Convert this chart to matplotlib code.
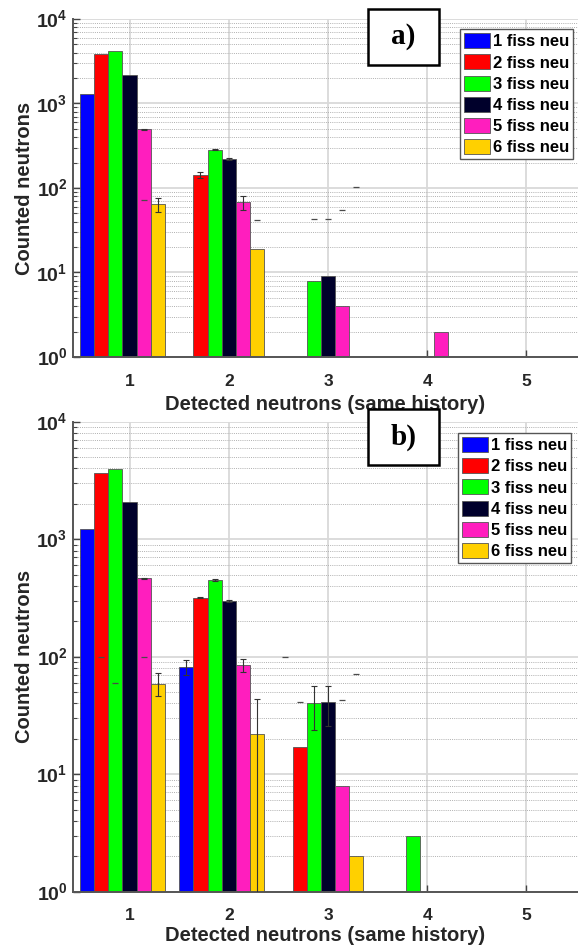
import numpy as np
import matplotlib.pyplot as plt
from matplotlib.patches import Rectangle
from matplotlib.ticker import LogLocator, NullFormatter

plt.rcParams["font.family"] = ["Liberation Sans", "DejaVu Sans"]
plt.rcParams["font.weight"] = "bold"
plt.rcParams["mathtext.fontset"] = "custom"
plt.rcParams["mathtext.rm"] = "Liberation Sans:bold"
plt.rcParams["mathtext.bf"] = "Liberation Sans:bold"

detected = [1, 2, 3, 4, 5]
labels = ["1 fiss neu", "2 fiss neu", "3 fiss neu", "4 fiss neu", "5 fiss neu", "6 fiss neu"]
colors = ["#0000ff", "#ff0000", "#00ff00", "#00002b", "#ff1ebe", "#ffd000"]

# a) counts per fission multiplicity (rows) vs detected neutrons (cols)
counts_a = [
    [1300, 0, 0, 0, 0],
    [3850, 143, 0, 0, 0],
    [4220, 284, 8, 0, 0],
    [2190, 222, 9, 0, 0],
    [495, 68, 4, 2, 0],
    [64, 19, 0, 0, 0],
]
err_a = [
    [0, 0, 0, 0, 0],
    [0, 11, 0, 0, 0],
    [0, 6, 0, 0, 0],
    [0, 5, 0, 0, 0],
    [4, 12.5, 0, 0, 0],
    [12, 0, 0, 0, 0],
]
# stray cap marks (group, series, value)
marks_a_g = [1, 2, 3, 3, 3, 3]
marks_a_s = [4, 5, 2, 3, 4, 5]
marks_a_v = [72, 42, 43, 43, 55, 103]

# b)
counts_b = [
    [1230, 82, 0, 0, 0],
    [3640, 318, 17, 0, 0],
    [3980, 450, 40, 3, 0],
    [2085, 298, 41, 0, 0],
    [465, 85, 8, 0, 0],
    [59, 22, 2, 0, 0],
]
err_b = [
    [0, 11.5, 0, 0, 0],
    [0, 5, 0, 0, 0],
    [0, 6, 16, 0, 0],
    [0, 4, 15.5, 0, 0],
    [4, 10.5, 0, 0, 0],
    [13, 21.5, 0, 0, 0],
]
marks_b_g = [3, 3, 3, 3, 1, 1, 1]
marks_b_s = [0, 5, 1, 4, 1, 4, 2]
marks_b_v = [100, 71, 41, 43, 100, 100, 60]

nser = 7  # matlab grouping had a 7th (empty) series
bw = 1.0 / nser


def xpos(g, s):
    return np.asarray(g, dtype=float) + (np.asarray(s) - 3) * bw


def panel(ax, counts, errs, mg, ms, mv, anchor):
    x = np.array(detected, dtype=float)
    handles = []
    for s in range(6):
        y = np.array(counts[s], dtype=float)
        y[y <= 0] = np.nan
        h = ax.bar(xpos(x, s), y, width=bw, color=colors[s], edgecolor="#555555",
                   linewidth=0.6, zorder=2, label=labels[s])
        handles.append(h)
        e = np.array(errs[s], dtype=float)
        ok = e > 0
        if ok.any():
            ax.errorbar(xpos(x, s)[ok], y[ok], yerr=e[ok], fmt="none", ecolor="#333333",
                        elinewidth=0.8, capsize=2.5, capthick=0.8, zorder=3)
    ax.plot(xpos(mg, ms), mv, ls="none", marker="_", ms=4, mew=0.9, color="#4a4a4a", zorder=3)

    ax.set_yscale("log")
    ax.set_ylim(1, 1e4)
    ax.set_xlim(0.43, 5.52)
    ax.set_xticks(detected)
    ax.set_xticklabels([str(d) for d in detected], fontsize=12.5, fontweight="bold", color="#262626")
    ax.set_yticks([1, 10, 100, 1000, 10000])
    ax.set_yticklabels([r"$10^{%d}$" % k for k in range(5)], fontsize=14, color="#262626")
    ax.yaxis.set_minor_locator(LogLocator(base=10, subs=np.arange(2, 10)))
    ax.yaxis.set_minor_formatter(NullFormatter())
    ax.tick_params(axis="both", which="major", direction="in", length=5, width=1, color="#444444")
    ax.tick_params(axis="y", which="minor", direction="in", length=3, width=0.8, color="#444444")
    ax.tick_params(axis="x", which="major", pad=12)
    ax.tick_params(axis="y", which="major", pad=4)

    ax.set_axisbelow(True)
    ax.grid(True, which="major", axis="both", color="#d9d9d9", lw=1.3, ls="-")
    ax.grid(True, which="minor", axis="y", color="#b0b0b0", lw=0.7, ls=(0, (1, 1.2)))

    for sp in ["top", "right"]:
        ax.spines[sp].set_visible(False)
    for sp in ["left", "bottom"]:
        ax.spines[sp].set_color("#555555")
        ax.spines[sp].set_linewidth(1.4)

    ax.set_xlabel("Detected neutrons (same history)", fontsize=14.5, fontweight="bold",
                  color="#262626")
    ax.set_ylabel("Counted neutrons", fontsize=14.5, fontweight="bold", color="#262626")

    leg = ax.legend(handles=handles, loc="upper right", bbox_to_anchor=anchor, borderaxespad=0,
                    fancybox=False, framealpha=1, edgecolor="#555555",
                    prop={"size": 12, "weight": "bold"}, handlelength=1.55, handleheight=1.0,
                    handletextpad=0.15, labelspacing=0.3, borderpad=0.25)
    leg.get_frame().set_linewidth(1.0)


fig = plt.figure(figsize=(5.78, 9.47), dpi=100)
W, H = 578.0, 947.0

ax_a = fig.add_axes([73 / W, 1 - 357 / H, 505 / W, 338 / H])
panel(ax_a, counts_a, err_a, marks_a_g, marks_a_s, marks_a_v, (0.99, 0.97))
ax_a.yaxis.set_label_coords(-0.078, 0.5)
ax_a.xaxis.set_label_coords(0.5, -0.112)

ax_b = fig.add_axes([73 / W, 1 - 891.7 / H, 505 / W, 470 / H])
panel(ax_b, counts_b, err_b, marks_b_g, marks_b_s, marks_b_v, (0.986, 0.976))
ax_b.yaxis.set_label_coords(-0.078, 0.5)
ax_b.xaxis.set_label_coords(0.5, -0.073)

# panel tags in boxes
for tag, top in [("a)", 9), ("b)", 409)]:
    fig.patches.append(Rectangle((368 / W, 1 - (top + 56) / H), 71 / W, 56 / H,
                                 transform=fig.transFigure, facecolor="white",
                                 edgecolor="black", linewidth=1.8, zorder=10))
    fig.text((368 + 35.5) / W, 1 - (top + 28) / H, tag, ha="center", va="center",
             fontsize=21, fontweight="bold", family="Liberation Serif", zorder=11)

fig.savefig("out.png", dpi=100)
